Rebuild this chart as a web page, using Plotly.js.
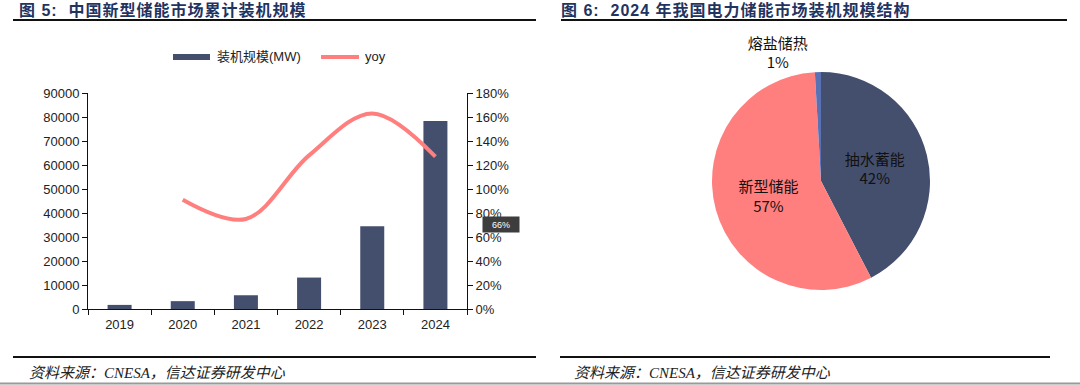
<!DOCTYPE html>
<html>
<head>
<meta charset="utf-8">
<script src="https://cdn.plot.ly/plotly-3.0.1.min.js"></script>
<style>
html,body{margin:0;padding:0;background:#fff;}
#chart{width:1080px;height:385px;}
.annotation[data-index="0"] .annotation-text,
.annotation[data-index="1"] .annotation-text{letter-spacing:1px;}
</style>
</head>
<body>
<div id="chart"></div>
<script>
// ---- data ----
const years = ['2019','2020','2021','2022','2023','2024'];
const capacityMW = [1709, 3269, 5729, 13100, 34500, 78300];
const yoyYears = ['2020','2021','2022','2023','2024'];
const yoyValues = [0.91, 0.75, 1.28, 1.63, 1.27];

const pieLabels = ['抽水蓄能', '新型储能', '熔盐储热'];
const pieShares = [42.4, 56.7, 0.9];

const leftTitle = '图 5:  中国新型储能市场累计装机规模';
const rightTitle = '图 6:  2024 年我国电力储能市场装机规模结构';
const sourceText = '资料来源：CNESA，信达证券研发中心';
const barName = '装机规模(MW)';
const lineName = 'yoy';
const badgeText = '66%';

// ---- styles ----
const NAVY = '#444f6e';
const SALMON = '#ff7f7f';
const SMALL = '#5a72b4';
const TITLE_C = '#1f3461';
const W = 1080, H = 385;
const px = x => x / W;
const py = y => 1 - y / H;
const tickFont = {family: 'Liberation Sans, Arial, sans-serif', size: 13, color: '#222'};
const cjk = 'Noto Sans CJK SC, sans-serif';

const traces = [
  {
    type: 'bar', x: years, y: capacityMW, name: barName,
    marker: {color: NAVY}, width: 0.38, xaxis: 'x', yaxis: 'y',
    showlegend: false, hoverinfo: 'x+y'
  },
  {
    type: 'scatter', mode: 'lines', x: yoyYears, y: yoyValues, name: lineName,
    line: {color: SALMON, width: 4, shape: 'spline', smoothing: 1},
    xaxis: 'x', yaxis: 'y2', showlegend: false
  },
  {
    type: 'pie', labels: pieLabels, values: pieShares, sort: false,
    direction: 'clockwise', rotation: 0,
    marker: {colors: [NAVY, SALMON, SMALL], line: {color: '#fff', width: 0}},
    texttemplate: '%{label}<br>%{percent:.0%}',
    textposition: ['inside', 'inside', 'outside'],
    insidetextorientation: 'horizontal',
    textfont: {family: cjk, size: 15, color: '#111'},
    outsidetextfont: {family: cjk, size: 15, color: '#111'},
    domain: {x: [px(712), px(930)], y: [py(302), py(60)]},
    showlegend: false, hoverinfo: 'label+percent'
  }
];

const annotations = [
  {text: '<b>' + leftTitle + '</b>', x: px(27), y: py(10), xref: 'paper', yref: 'paper',
   xanchor: 'left', yanchor: 'middle', showarrow: false,
   font: {family: 'Liberation Sans, ' + cjk, size: 16, color: TITLE_C}},
  {text: '<b>' + rightTitle + '</b>', x: px(572), y: py(10), xref: 'paper', yref: 'paper',
   xanchor: 'left', yanchor: 'middle', showarrow: false,
   font: {family: 'Liberation Sans, ' + cjk, size: 16, color: TITLE_C}},
  {text: '<i>' + sourceText + '</i>', x: px(27), y: py(373), xref: 'paper', yref: 'paper',
   xanchor: 'left', yanchor: 'middle', showarrow: false,
   font: {family: 'Liberation Serif, ' + cjk, size: 15, color: '#222'}},
  {text: '<i>' + sourceText + '</i>', x: px(572), y: py(373), xref: 'paper', yref: 'paper',
   xanchor: 'left', yanchor: 'middle', showarrow: false,
   font: {family: 'Liberation Serif, ' + cjk, size: 15, color: '#222'}},
  {text: barName, x: px(215), y: py(57), xref: 'paper', yref: 'paper',
   xanchor: 'left', yanchor: 'middle', showarrow: false,
   font: {family: 'Liberation Sans, ' + cjk, size: 13, color: '#222'}},
  {text: lineName, x: px(363), y: py(57), xref: 'paper', yref: 'paper',
   xanchor: 'left', yanchor: 'middle', showarrow: false,
   font: {family: 'Liberation Sans, ' + cjk, size: 13, color: '#222'}},
  {text: badgeText, x: px(501), y: py(224), xref: 'paper', yref: 'paper',
   xanchor: 'center', yanchor: 'middle', showarrow: false,
   bgcolor: '#3d3d3d', borderpad: 2, width: 32, height: 11,
   font: {family: 'Liberation Sans, sans-serif', size: 9, color: '#fff'}}
];

const shapes = [
  {type: 'line', xref: 'paper', yref: 'paper', x0: px(13), x1: px(536), y0: py(20), y1: py(20), line: {color: '#111', width: 2}},
  {type: 'line', xref: 'paper', yref: 'paper', x0: px(561), x1: px(1067), y0: py(20), y1: py(20), line: {color: '#111', width: 2}},
  {type: 'line', xref: 'paper', yref: 'paper', x0: px(13), x1: px(536), y0: py(357), y1: py(357), line: {color: '#111', width: 2}},
  {type: 'line', xref: 'paper', yref: 'paper', x0: px(560), x1: px(1050), y0: py(357), y1: py(357), line: {color: '#111', width: 2}},
  {type: 'line', xref: 'paper', yref: 'paper', x0: 0, x1: 1, y0: py(383.5), y1: py(383.5), line: {color: '#9a9a9a', width: 2}},
  {type: 'rect', xref: 'paper', yref: 'paper', x0: px(173), x1: px(210), y0: py(60), y1: py(54), fillcolor: NAVY, line: {width: 0}},
  {type: 'line', xref: 'paper', yref: 'paper', x0: px(321), x1: px(359), y0: py(57), y1: py(57), line: {color: SALMON, width: 4}}
];

const layout = {
  width: W, height: H,
  margin: {l: 0, r: 0, t: 0, b: 0},
  paper_bgcolor: '#fff', plot_bgcolor: '#fff',
  showlegend: false,
  xaxis: {
    domain: [px(88), px(467)], anchor: 'y', type: 'category',
    showline: true, linecolor: '#111', linewidth: 1,
    ticks: 'outside', ticklen: 5, tickcolor: '#111', tickson: 'boundaries',
    ticklabelstandoff: 3,
    showgrid: false, zeroline: false, tickfont: tickFont
  },
  yaxis: {
    domain: [py(309), py(93)], anchor: 'x', range: [0, 90000], dtick: 10000,
    showline: true, linecolor: '#111', linewidth: 1,
    ticks: 'outside', ticklen: 5, tickcolor: '#111',
    showgrid: false, zeroline: false, tickfont: tickFont, tickformat: 'd'
  },
  yaxis2: {
    overlaying: 'y', side: 'right', anchor: 'x', range: [0, 1.8], dtick: 0.2,
    tickformat: '.0%', showline: true, linecolor: '#111', linewidth: 1,
    ticks: 'outside', ticklen: 5, tickcolor: '#111',
    showgrid: false, zeroline: false, tickfont: tickFont
  },
  annotations: annotations,
  shapes: shapes
};

Plotly.newPlot('chart', traces, layout, {displayModeBar: false, staticPlot: true});
</script>
</body>
</html>
